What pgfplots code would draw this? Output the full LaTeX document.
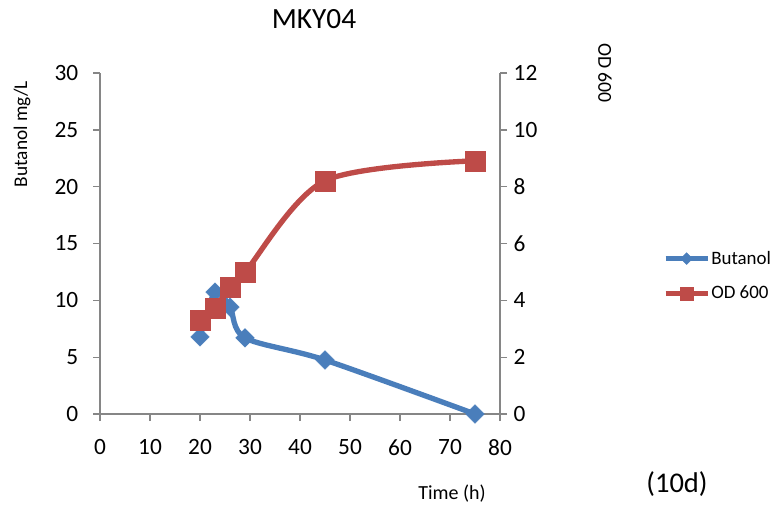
\documentclass[border=0pt]{standalone}
\usepackage{fontspec}
\setmainfont{Carlito}
\usepackage{pgfplots}
\pgfplotsset{compat=1.18}
\definecolor{bl}{RGB}{74,126,187}
\definecolor{rd}{RGB}{190,75,72}
\definecolor{axc}{RGB}{134,134,134}
\begin{document}
\begin{tikzpicture}
\useasboundingbox (-75pt,-70.5pt) rectangle (505.5pt,310.5pt);
\pgfplotsset{
  common/.style={
    scale only axis, width=300pt, height=255.75pt,
    at={(0pt,0pt)}, anchor=south west,
    xmin=0, xmax=80, clip=false,
    axis line style={axc, line width=1pt},
    tick style={axc, line width=1pt},
    major tick length=5.25pt, tick align=outside,
    ticklabel style={font=\fontsize{17.5}{20}\selectfont, text=black},
    /pgf/number format/assume math mode=true,
  }
}
\begin{axis}[common, ymin=0, ymax=30,
  axis x line*=bottom, axis y line*=left,
  xtick={0,10,...,80}, ytick={0,5,...,30},
  xticklabel style={yshift=-10.5pt},
  yticklabel style={xshift=-7.5pt}]
\addplot[bl, line width=4pt, smooth, tension=0.5,
  mark=square*, mark size=5pt,
  mark options={rotate=45, solid, fill=bl, draw=bl, line width=0.1pt}]
  coordinates {(20,6.78) (23,10.73) (26,9.41) (29,6.7) (45,4.75) (75,0)};
\end{axis}
\begin{axis}[common, ymin=0, ymax=12,
  axis x line=none, axis y line*=right,
  ytick={0,2,...,12},
  yticklabel style={xshift=1.5pt},
  legend style={draw=none, fill=none, at={(1.4075,0.4047)}, anchor=west,
    font=\fontsize{14.2}{16}\selectfont, row sep=13pt, inner sep=0pt,
    nodes={inner sep=1pt}},
  legend cell align=left,
  legend image code/.code={\draw[mark repeat=2, mark phase=2, #1] plot coordinates {(0pt,0pt) (15.75pt,0pt) (31.5pt,0pt)};}]
\addplot[rd, line width=4pt, smooth, tension=0.5,
  mark=square*, mark size=7.5pt,
  mark options={solid, fill=rd, draw=rd, line width=0.1pt}, forget plot]
  coordinates {(20,3.32) (23,3.74) (26,4.47) (29,4.99) (45,8.21) (75,8.91)};
\addlegendimage{bl, line width=3.5pt, mark=square*, mark size=3.2pt, mark options={rotate=45, line width=0.1pt, fill=bl}}
\addlegendentry{Butanol}
\addlegendimage{rd, line width=3.5pt, mark=square*, mark size=4.9pt, mark options={line width=0.1pt, fill=rd}}
\addlegendentry{OD 600}
\end{axis}
\node[font=\fontsize{22}{24}\selectfont] at (160.5pt,296.25pt) {MKY04};
\node[font=\fontsize{14.5}{17}\selectfont, rotate=90] at (-58.5pt,210pt) {Butanol mg/L};
\node[font=\fontsize{14.8}{17}\selectfont, rotate=-90] at (378.75pt,255.75pt) {OD 600};
\node[font=\fontsize{15}{18}\selectfont] at (264pt,-60pt) {Time (h)};
\node[font=\fontsize{21.4}{24}\selectfont] at (432.75pt,-52.5pt) {(10d)};
\end{tikzpicture}
\end{document}
